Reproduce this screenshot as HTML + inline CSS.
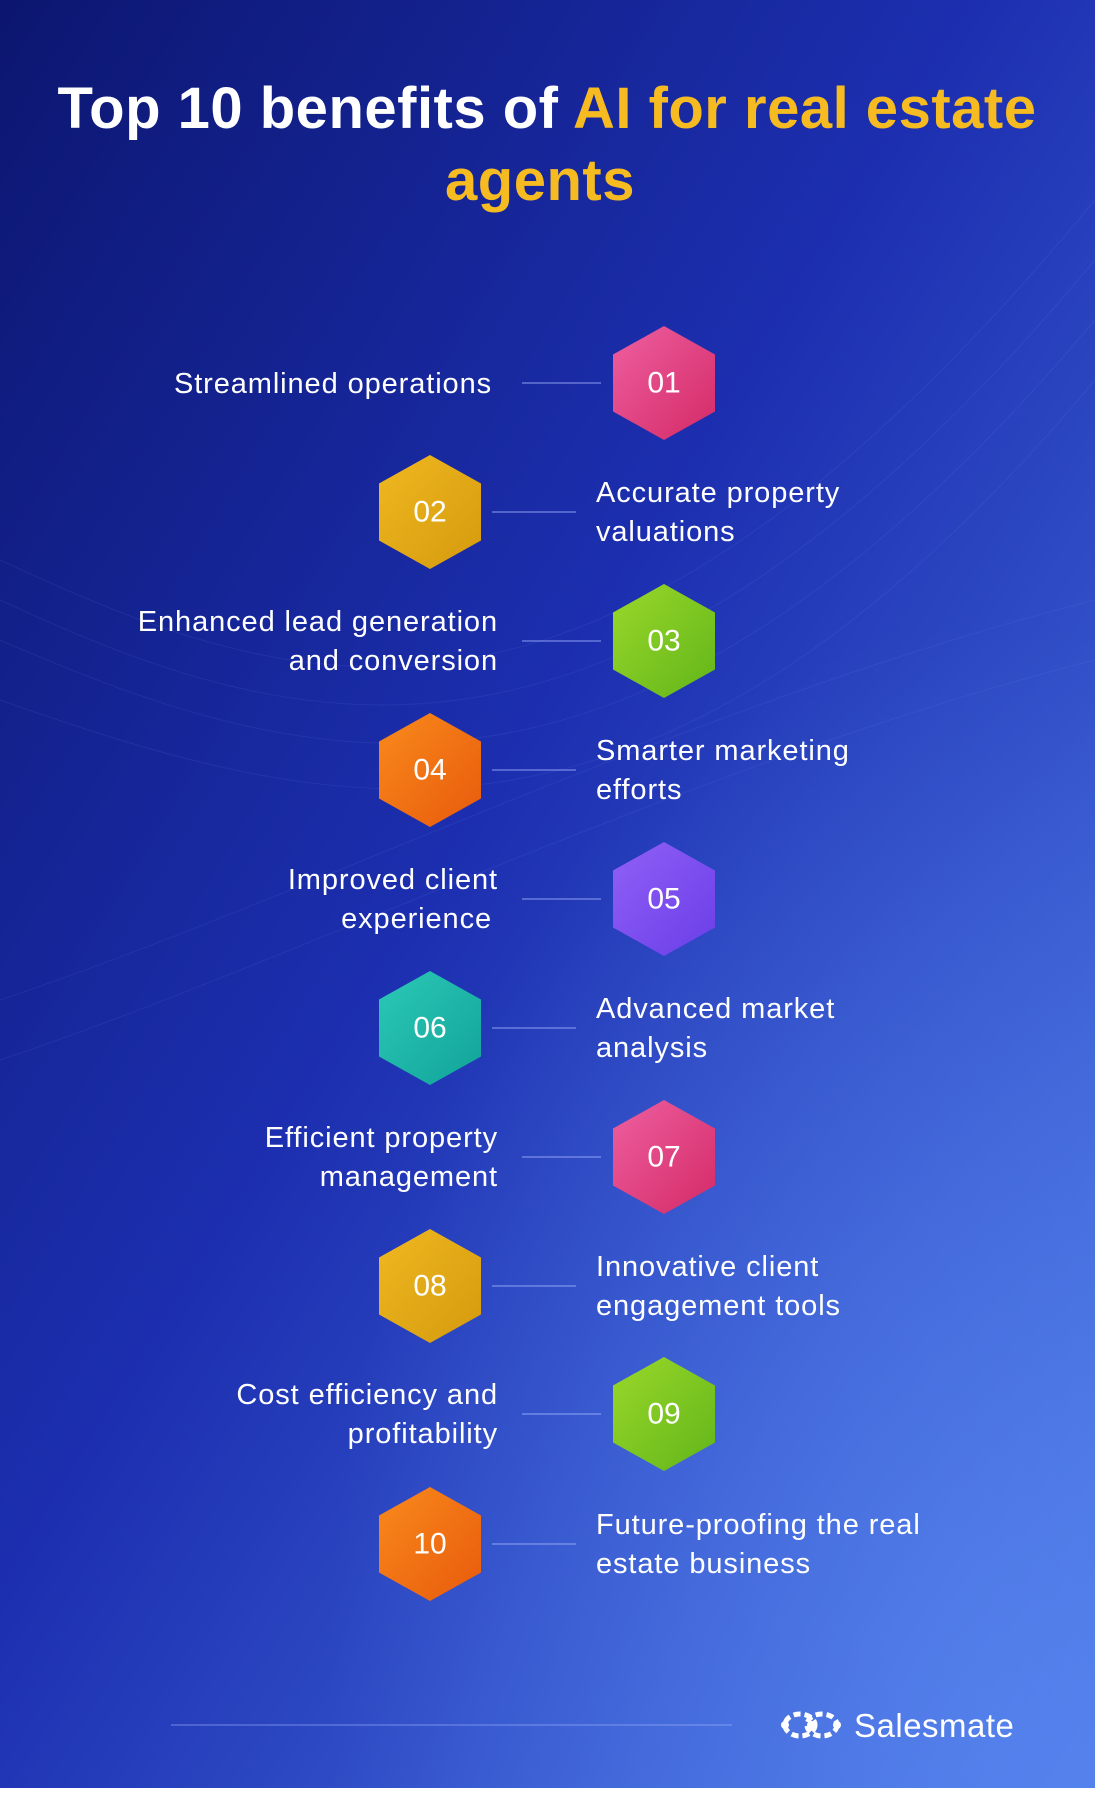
<!DOCTYPE html>
<html><head><meta charset="utf-8"><style>
html,body{margin:0;padding:0}
body{width:1095px;height:1788px;overflow:hidden;font-family:"Liberation Sans",sans-serif}
</style></head><body>
<svg width="1095" height="1788" viewBox="0 0 1095 1788" xmlns="http://www.w3.org/2000/svg">
<defs>
<linearGradient id="bg" x1="0" y1="0" x2="1" y2="1">
<stop offset="0" stop-color="#0c1670"/>
<stop offset="0.45" stop-color="#1c2fb0"/>
<stop offset="1" stop-color="#4f7cea"/>
</linearGradient>
<radialGradient id="glow" cx="0.9" cy="0.95" r="0.6">
<stop offset="0" stop-color="#5a88f0" stop-opacity="0.6"/>
<stop offset="1" stop-color="#5a88f0" stop-opacity="0"/>
</radialGradient>
<linearGradient id="pink" x1="0" y1="0" x2="1" y2="1"><stop offset="0" stop-color="#ee5fa0"/><stop offset="1" stop-color="#d42a66"/></linearGradient>
<linearGradient id="gold" x1="0" y1="0" x2="1" y2="1"><stop offset="0" stop-color="#f0b820"/><stop offset="1" stop-color="#d49a0e"/></linearGradient>
<linearGradient id="green" x1="0" y1="0" x2="1" y2="1"><stop offset="0" stop-color="#9ad82a"/><stop offset="1" stop-color="#62b51a"/></linearGradient>
<linearGradient id="orange" x1="0" y1="0" x2="1" y2="1"><stop offset="0" stop-color="#f98a1c"/><stop offset="1" stop-color="#e85a0c"/></linearGradient>
<linearGradient id="purple" x1="0" y1="0" x2="1" y2="1"><stop offset="0" stop-color="#9160f6"/><stop offset="1" stop-color="#6a3ee8"/></linearGradient>
<linearGradient id="teal" x1="0" y1="0" x2="1" y2="1"><stop offset="0" stop-color="#2cc9b6"/><stop offset="1" stop-color="#11a39a"/></linearGradient>
<polygon id="hex" points="0,-57 51,-28.5 51,28.5 0,57 -51,28.5 -51,-28.5"/>
</defs>
<rect width="1095" height="1788" fill="url(#bg)"/>
<rect width="1095" height="1788" fill="url(#glow)"/>
<g fill="none" stroke="#8aa0ff" stroke-opacity="0.1" stroke-width="1">
<path d="M0 560 C300 700 600 800 1095 200"/>
<path d="M0 600 C300 740 620 830 1095 260"/>
<path d="M0 640 C320 780 640 860 1095 320"/>
<path d="M0 700 C340 820 660 900 1095 380"/>
<path d="M0 1000 C300 900 700 700 1095 600"/>
<path d="M0 1060 C300 960 700 760 1095 660"/>
</g>
<text x="547" y="128" text-anchor="middle" font-size="58" font-weight="bold" letter-spacing="0.5" fill="#fff">Top 10 benefits of <tspan fill="#f7bb22">AI for real estate</tspan></text>
<text x="540" y="200" text-anchor="middle" font-size="58" font-weight="bold" letter-spacing="0.5" fill="#f7bb22">agents</text>
<g stroke="#a8b8ff" stroke-opacity="0.55" stroke-width="1.5">
<line x1="522" y1="383" x2="601" y2="383"/>
<line x1="492" y1="512" x2="576" y2="512"/>
<line x1="522" y1="641" x2="601" y2="641"/>
<line x1="492" y1="770" x2="576" y2="770"/>
<line x1="522" y1="899" x2="601" y2="899"/>
<line x1="492" y1="1028" x2="576" y2="1028"/>
<line x1="522" y1="1157" x2="601" y2="1157"/>
<line x1="492" y1="1286" x2="576" y2="1286"/>
<line x1="522" y1="1414" x2="601" y2="1414"/>
<line x1="492" y1="1544" x2="576" y2="1544"/>
<line x1="171" y1="1725" x2="732" y2="1725" stroke-opacity="0.4"/>
</g>
<g font-size="30" fill="#fff" text-anchor="middle" dominant-baseline="central">
<use href="#hex" x="664" y="383" fill="url(#pink)"/><text x="664" y="383">01</text>
<use href="#hex" x="430" y="512" fill="url(#gold)"/><text x="430" y="512">02</text>
<use href="#hex" x="664" y="641" fill="url(#green)"/><text x="664" y="641">03</text>
<use href="#hex" x="430" y="770" fill="url(#orange)"/><text x="430" y="770">04</text>
<use href="#hex" x="664" y="899" fill="url(#purple)"/><text x="664" y="899">05</text>
<use href="#hex" x="430" y="1028" fill="url(#teal)"/><text x="430" y="1028">06</text>
<use href="#hex" x="664" y="1157" fill="url(#pink)"/><text x="664" y="1157">07</text>
<use href="#hex" x="430" y="1286" fill="url(#gold)"/><text x="430" y="1286">08</text>
<use href="#hex" x="664" y="1414" fill="url(#green)"/><text x="664" y="1414">09</text>
<use href="#hex" x="430" y="1544" fill="url(#orange)"/><text x="430" y="1544">10</text>
</g>
<g font-size="29" fill="#fff" letter-spacing="0.9">
<g text-anchor="end">
<text x="492" y="393">Streamlined operations</text>
<text x="498" y="631">Enhanced lead generation</text>
<text x="498" y="670">and conversion</text>
<text x="498" y="889">Improved client</text>
<text x="492" y="928">experience</text>
<text x="498" y="1147">Efficient property</text>
<text x="498" y="1186">management</text>
<text x="498" y="1404">Cost efficiency and</text>
<text x="498" y="1443">profitability</text>
</g>
<text x="596" y="502">Accurate property</text>
<text x="596" y="541">valuations</text>
<text x="596" y="760">Smarter marketing</text>
<text x="596" y="799">efforts</text>
<text x="596" y="1018">Advanced market</text>
<text x="596" y="1057">analysis</text>
<text x="596" y="1276">Innovative client</text>
<text x="596" y="1315">engagement tools</text>
<text x="596" y="1534">Future-proofing the real</text>
<text x="596" y="1573">estate business</text>
</g>
<g fill="none" stroke="#fff" stroke-width="5" stroke-dasharray="7 4">
<ellipse cx="800" cy="1725" rx="15" ry="11"/>
<ellipse cx="822" cy="1725" rx="15" ry="11"/>
</g>
<circle cx="785" cy="1725" r="4" fill="#fff"/><circle cx="811" cy="1725" r="4" fill="#fff"/><circle cx="837" cy="1725" r="4" fill="#fff"/>
<text x="854" y="1737" font-size="33" fill="#fff" letter-spacing="0.5">Salesmate</text>
</svg>
</body></html>
